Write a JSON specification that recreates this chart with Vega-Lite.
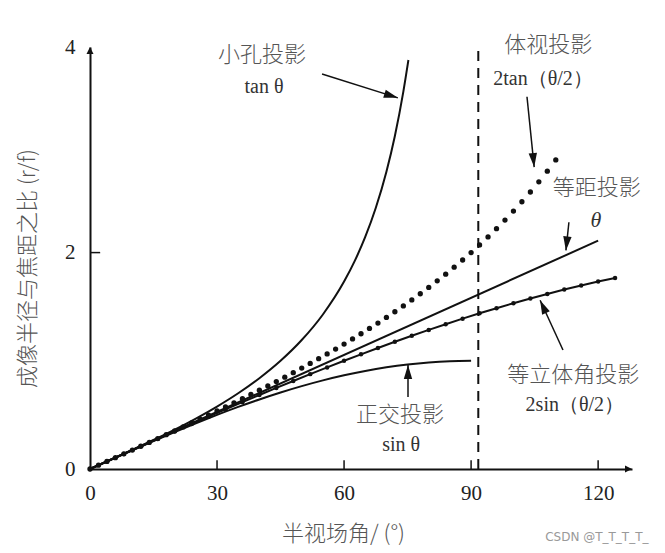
{
  "$schema": "https://vega.github.io/schema/vega-lite/v6.json",
  "width": 542,
  "height": 422,
  "autosize": {"type": "none"},
  "padding": {"left": 90, "top": 47, "right": 33, "bottom": 84},
  "background": "white",
  "config": {"view": {"stroke": null}},
  "datasets": {
    "curves": [
      {"series": "tan", "x": 0, "y": 0}, {"series": "tan", "x": 5, "y": 0.0875}, {"series": "tan", "x": 10, "y": 0.1763},
      {"series": "tan", "x": 15, "y": 0.2679}, {"series": "tan", "x": 20, "y": 0.364}, {"series": "tan", "x": 25, "y": 0.4663},
      {"series": "tan", "x": 30, "y": 0.5774}, {"series": "tan", "x": 35, "y": 0.7002}, {"series": "tan", "x": 40, "y": 0.8391},
      {"series": "tan", "x": 45, "y": 1.0}, {"series": "tan", "x": 50, "y": 1.1918}, {"series": "tan", "x": 55, "y": 1.4281},
      {"series": "tan", "x": 60, "y": 1.7321}, {"series": "tan", "x": 62.5, "y": 1.921}, {"series": "tan", "x": 65, "y": 2.1445},
      {"series": "tan", "x": 67.5, "y": 2.4142}, {"series": "tan", "x": 70, "y": 2.7475}, {"series": "tan", "x": 72, "y": 3.0777},
      {"series": "tan", "x": 74, "y": 3.4874}, {"series": "tan", "x": 75.2, "y": 3.78},
      {"series": "theta", "x": 0, "y": 0}, {"series": "theta", "x": 120, "y": 2.11},
      {"series": "sin", "x": 0, "y": 0}, {"series": "sin", "x": 5, "y": 0.0872}, {"series": "sin", "x": 10, "y": 0.1736},
      {"series": "sin", "x": 15, "y": 0.2588}, {"series": "sin", "x": 20, "y": 0.342}, {"series": "sin", "x": 25, "y": 0.4226},
      {"series": "sin", "x": 30, "y": 0.5}, {"series": "sin", "x": 35, "y": 0.5736}, {"series": "sin", "x": 40, "y": 0.6428},
      {"series": "sin", "x": 45, "y": 0.7071}, {"series": "sin", "x": 50, "y": 0.766}, {"series": "sin", "x": 55, "y": 0.8192},
      {"series": "sin", "x": 60, "y": 0.866}, {"series": "sin", "x": 65, "y": 0.9063}, {"series": "sin", "x": 70, "y": 0.9397},
      {"series": "sin", "x": 75, "y": 0.9659}, {"series": "sin", "x": 80, "y": 0.9848}, {"series": "sin", "x": 85, "y": 0.9962},
      {"series": "sin", "x": 90, "y": 1.0},
      {"series": "2sin", "x": 0, "y": 0}, {"series": "2sin", "x": 4, "y": 0.0698}, {"series": "2sin", "x": 8, "y": 0.1395},
      {"series": "2sin", "x": 12, "y": 0.2091}, {"series": "2sin", "x": 16, "y": 0.2784}, {"series": "2sin", "x": 20, "y": 0.3473},
      {"series": "2sin", "x": 24, "y": 0.4158}, {"series": "2sin", "x": 28, "y": 0.4838}, {"series": "2sin", "x": 32, "y": 0.5513},
      {"series": "2sin", "x": 36, "y": 0.618}, {"series": "2sin", "x": 40, "y": 0.684}, {"series": "2sin", "x": 44, "y": 0.7492},
      {"series": "2sin", "x": 48, "y": 0.8135}, {"series": "2sin", "x": 52, "y": 0.8767}, {"series": "2sin", "x": 56, "y": 0.9389},
      {"series": "2sin", "x": 60, "y": 1.0}, {"series": "2sin", "x": 64, "y": 1.0598}, {"series": "2sin", "x": 68, "y": 1.1184},
      {"series": "2sin", "x": 72, "y": 1.1756}, {"series": "2sin", "x": 76, "y": 1.2313}, {"series": "2sin", "x": 80, "y": 1.2856},
      {"series": "2sin", "x": 84, "y": 1.3383}, {"series": "2sin", "x": 88, "y": 1.3893}, {"series": "2sin", "x": 92, "y": 1.4387},
      {"series": "2sin", "x": 96, "y": 1.4863}, {"series": "2sin", "x": 100, "y": 1.5321}, {"series": "2sin", "x": 104, "y": 1.576},
      {"series": "2sin", "x": 108, "y": 1.618}, {"series": "2sin", "x": 112, "y": 1.6581}, {"series": "2sin", "x": 116, "y": 1.6961},
      {"series": "2sin", "x": 120, "y": 1.7321}, {"series": "2sin", "x": 124, "y": 1.7659}
    ],
    "tan2": [
      {"x": 0, "y": 0}, {"x": 2, "y": 0.0349}, {"x": 4, "y": 0.0698}, {"x": 6, "y": 0.1048}, {"x": 8, "y": 0.1399},
      {"x": 10, "y": 0.175}, {"x": 12, "y": 0.2102}, {"x": 14, "y": 0.2456}, {"x": 16, "y": 0.2811}, {"x": 18, "y": 0.3168},
      {"x": 20, "y": 0.3527}, {"x": 22, "y": 0.3888}, {"x": 24, "y": 0.4251}, {"x": 26, "y": 0.4617}, {"x": 28, "y": 0.4987},
      {"x": 30, "y": 0.5359}, {"x": 32, "y": 0.5735}, {"x": 34, "y": 0.6115}, {"x": 36, "y": 0.6498}, {"x": 38, "y": 0.6887},
      {"x": 40, "y": 0.7279}, {"x": 42, "y": 0.7677}, {"x": 44, "y": 0.8081}, {"x": 46, "y": 0.849}, {"x": 48, "y": 0.8905},
      {"x": 50, "y": 0.9326}, {"x": 52, "y": 0.9755}, {"x": 54, "y": 1.0191}, {"x": 56, "y": 1.0634}, {"x": 58, "y": 1.1086},
      {"x": 60, "y": 1.1547}, {"x": 62, "y": 1.2017}, {"x": 64, "y": 1.2498}, {"x": 66, "y": 1.2988}, {"x": 68, "y": 1.349},
      {"x": 70, "y": 1.4004}, {"x": 72, "y": 1.4531}, {"x": 74, "y": 1.5071}, {"x": 76, "y": 1.5626}, {"x": 78, "y": 1.6196},
      {"x": 80, "y": 1.6782}, {"x": 82, "y": 1.7386}, {"x": 84, "y": 1.8008}, {"x": 86, "y": 1.865}, {"x": 88, "y": 1.9314},
      {"x": 90, "y": 2.0}, {"x": 92, "y": 2.0711}, {"x": 94, "y": 2.1448}, {"x": 96, "y": 2.2212}, {"x": 98, "y": 2.3008},
      {"x": 100, "y": 2.3835}, {"x": 102, "y": 2.4698}, {"x": 104, "y": 2.5599}, {"x": 106, "y": 2.6541}, {"x": 108, "y": 2.7528},
      {"x": 110, "y": 2.8563}
    ],
    "arrows": [
      {"name": "tan", "x": 54.8, "y": 3.65, "x2": 72.7, "y2": 3.43},
      {"name": "tan2", "x": 103.2, "y": 3.44, "x2": 104.9, "y2": 2.79},
      {"name": "theta", "x": 113.1, "y": 2.28, "x2": 112.4, "y2": 2.02},
      {"name": "sin2", "x": 111.7, "y": 1.1, "x2": 106.3, "y2": 1.56},
      {"name": "sin", "x": 75.1, "y": 0.665, "x2": 75.1, "y2": 0.96}
    ],
    "xticks": [{"x": 30, "y": 0, "y2": 0.08}, {"x": 60, "y": 0, "y2": 0.08}, {"x": 90, "y": 0, "y2": 0.08}, {"x": 120, "y": 0, "y2": 0.08}],
    "yticks": [{"x": 0, "x2": 2.4, "y": 2}],
    "labels_cn": [
      {"text": "小孔投影", "x": 40.6, "y": 3.83},
      {"text": "体视投影", "x": 108.2, "y": 3.92},
      {"text": "等距投影", "x": 119.7, "y": 2.6},
      {"text": "等立体角投影", "x": 114.1, "y": 0.87},
      {"text": "正交投影", "x": 73.2, "y": 0.5}
    ],
    "labels_math": [
      {"text": "tan θ", "x": 41.1, "y": 3.53},
      {"text": "2tan（θ/2）", "x": 107.0, "y": 3.6},
      {"text": "2sin（θ/2）", "x": 114.5, "y": 0.59},
      {"text": "sin θ", "x": 73.5, "y": 0.22}
    ]
  },
  "layer": [
    {
      "data": {"name": "curves"},
      "mark": {"type": "line", "color": "#111", "strokeWidth": 2, "interpolate": "monotone"},
      "encoding": {
        "x": {"field": "x", "type": "quantitative", "scale": {"domain": [0, 128], "nice": false},
          "axis": {"values": [0, 30, 60, 90, 120], "title": "半视场角/ (°)", "grid": false, "ticks": false,
            "domainColor": "#111", "domainWidth": 2,
            "labelPadding": 13, "labelFont": "Liberation Serif", "labelFontSize": 21, "labelColor": "#222",
            "titleFont": "Noto Sans CJK SC", "titleFontWeight": 300, "titleFontSize": 22, "titleColor": "#555",
            "titlePadding": 20, "titleX": 253, "labelFlush": false}},
        "y": {"field": "y", "type": "quantitative", "scale": {"domain": [0, 3.9], "nice": false},
          "axis": {"values": [0, 2, 3.9], "labelExpr": "datum.value > 3 ? '4' : format(datum.value, 'd')", "title": "成像半径与焦距之比 (r/f)", "grid": false, "ticks": false,
            "domainColor": "#111", "domainWidth": 2,
            "labelPadding": 15, "labelFont": "Liberation Serif", "labelFontSize": 21, "labelColor": "#222",
            "titleFont": "Noto Sans CJK SC", "titleFontWeight": 300, "titleFontSize": 22, "titleColor": "#555",
            "titlePadding": 25, "titleY": 221, "labelFlush": false}},
        "detail": {"field": "series"}
      }
    },
    {
      "data": {"name": "xticks"},
      "mark": {"type": "rule", "color": "#111", "strokeWidth": 1.5},
      "encoding": {"x": {"field": "x", "type": "quantitative"}, "y": {"field": "y", "type": "quantitative"}, "y2": {"field": "y2"}}
    },
    {
      "data": {"name": "yticks"},
      "mark": {"type": "rule", "color": "#111", "strokeWidth": 1.5},
      "encoding": {"x": {"field": "x", "type": "quantitative"}, "x2": {"field": "x2"}, "y": {"field": "y", "type": "quantitative"}}
    },
    {
      "data": {"name": "curves"},
      "transform": [{"filter": "datum.series === '2sin'"}],
      "mark": {"type": "point", "filled": true, "color": "#111", "size": 20, "opacity": 1},
      "encoding": {"x": {"field": "x", "type": "quantitative"}, "y": {"field": "y", "type": "quantitative"}}
    },
    {
      "data": {"name": "tan2"},
      "mark": {"type": "point", "filled": true, "color": "#111", "size": 28, "opacity": 1},
      "encoding": {"x": {"field": "x", "type": "quantitative"}, "y": {"field": "y", "type": "quantitative"}}
    },
    {
      "data": {"values": [{"x": 91.7, "y": 0, "y2": 3.89}]},
      "mark": {"type": "rule", "color": "#111", "strokeWidth": 2, "strokeDash": [10, 7]},
      "encoding": {"x": {"field": "x", "type": "quantitative"}, "y": {"field": "y", "type": "quantitative"}, "y2": {"field": "y2"}}
    },
    {
      "data": {"name": "arrows"},
      "mark": {"type": "rule", "color": "#111", "strokeWidth": 1.5},
      "encoding": {"x": {"field": "x", "type": "quantitative"}, "y": {"field": "y", "type": "quantitative"}, "x2": {"field": "x2"}, "y2": {"field": "y2"}}
    },
    {
      "data": {"name": "arrows"},
      "transform": [{"filter": "datum.name === 'tan'"}],
      "mark": {"type": "point", "shape": "M0,0L-0.6,2L0.6,2Z", "filled": true, "color": "#111", "opacity": 1, "size": 196, "angle": 107.5},
      "encoding": {"x": {"field": "x2", "type": "quantitative"}, "y": {"field": "y2", "type": "quantitative"}}
    },
    {
      "data": {"name": "arrows"},
      "transform": [{"filter": "datum.name === 'tan2'"}],
      "mark": {"type": "point", "shape": "M0,0L-0.6,2L0.6,2Z", "filled": true, "color": "#111", "opacity": 1, "size": 196, "angle": 174.3},
      "encoding": {"x": {"field": "x2", "type": "quantitative"}, "y": {"field": "y2", "type": "quantitative"}}
    },
    {
      "data": {"name": "arrows"},
      "transform": [{"filter": "datum.name === 'theta'"}],
      "mark": {"type": "point", "shape": "M0,0L-0.6,2L0.6,2Z", "filled": true, "color": "#111", "opacity": 1, "size": 196, "angle": 186},
      "encoding": {"x": {"field": "x2", "type": "quantitative"}, "y": {"field": "y2", "type": "quantitative"}}
    },
    {
      "data": {"name": "arrows"},
      "transform": [{"filter": "datum.name === 'sin2'"}],
      "mark": {"type": "point", "shape": "M0,0L-0.6,2L0.6,2Z", "filled": true, "color": "#111", "opacity": 1, "size": 196, "angle": 335.3},
      "encoding": {"x": {"field": "x2", "type": "quantitative"}, "y": {"field": "y2", "type": "quantitative"}}
    },
    {
      "data": {"name": "arrows"},
      "transform": [{"filter": "datum.name === 'sin'"}],
      "mark": {"type": "point", "shape": "M0,0L-0.6,2L0.6,2Z", "filled": true, "color": "#111", "opacity": 1, "size": 196, "angle": 0},
      "encoding": {"x": {"field": "x2", "type": "quantitative"}, "y": {"field": "y2", "type": "quantitative"}}
    },
    {
      "data": {"values": [{"x": 0, "y": 3.9}]},
      "mark": {"type": "point", "shape": "M0,0L-1,2L1,2Z", "filled": true, "color": "#111", "opacity": 1, "size": 49, "angle": 0},
      "encoding": {"x": {"field": "x", "type": "quantitative"}, "y": {"field": "y", "type": "quantitative"}}
    },
    {
      "data": {"values": [{"x": 128, "y": 0}]},
      "mark": {"type": "point", "shape": "M0,0L-1,2L1,2Z", "filled": true, "color": "#111", "opacity": 1, "size": 49, "angle": 90},
      "encoding": {"x": {"field": "x", "type": "quantitative"}, "y": {"field": "y", "type": "quantitative"}}
    },
    {
      "data": {"name": "labels_cn"},
      "mark": {"type": "text", "font": "Noto Sans CJK SC", "fontWeight": 300, "fontSize": 22, "color": "#555", "align": "center", "baseline": "middle"},
      "encoding": {"x": {"field": "x", "type": "quantitative"}, "y": {"field": "y", "type": "quantitative"}, "text": {"field": "text"}}
    },
    {
      "data": {"name": "labels_math"},
      "mark": {"type": "text", "font": "Liberation Serif", "fontSize": 20, "color": "#333", "align": "center", "baseline": "middle"},
      "encoding": {"x": {"field": "x", "type": "quantitative"}, "y": {"field": "y", "type": "quantitative"}, "text": {"field": "text"}}
    },
    {
      "data": {"values": [{"text": "θ", "x": 119.5, "y": 2.3}]},
      "mark": {"type": "text", "font": "Liberation Serif", "fontStyle": "italic", "fontSize": 22, "color": "#333", "align": "center", "baseline": "middle"},
      "encoding": {"x": {"field": "x", "type": "quantitative"}, "y": {"field": "y", "type": "quantitative"}, "text": {"field": "text"}}
    },
    {
      "data": {"values": [{"text": "CSDN @T_T_T_T_", "x": 119.7, "y": -0.63}]},
      "mark": {"type": "text", "font": "DejaVu Sans", "fontSize": 12, "color": "#999", "align": "center", "baseline": "middle"},
      "encoding": {"x": {"field": "x", "type": "quantitative"}, "y": {"field": "y", "type": "quantitative"}, "text": {"field": "text"}}
    }
  ]
}
